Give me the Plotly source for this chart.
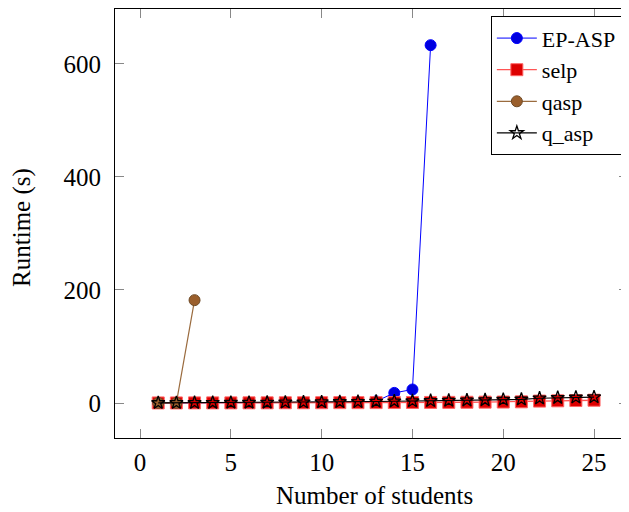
import plotly.graph_objects as go

students = list(range(1, 26))
ep_x = list(range(1, 17))
ep_asp = [0.1, 0.1, 0.2, 0.2, 0.3, 0.4, 0.5, 0.6, 0.8, 1.0, 1.3, 1.8, 3.0, 18, 24, 633]
selp = [0.2, 0.2, 0.3, 0.3, 0.3, 0.4, 0.4, 0.5, 0.5, 0.6, 0.7, 0.7, 0.8, 0.9, 1.0, 1.1, 1.2, 1.4, 1.6, 1.8, 2.2, 3.5, 4.0, 4.5, 5.0]
qasp_x = [1, 2, 3]
qasp = [0.2, 0.3, 182]
q_asp = [0.3, 0.4, 0.5, 0.6, 0.7, 0.8, 1.0, 1.2, 1.4, 1.7, 2.0, 2.3, 2.8, 3.2, 3.6, 4.0, 4.5, 5.0, 5.5, 6.0, 6.5, 8.5, 9.5, 10.0, 10.5]
x_ticks = [0, 5, 10, 15, 20, 25]
y_ticks = [0, 200, 400, 600]

font = "Liberation Serif, Times New Roman, serif"
FS = 25

fig = go.Figure()
fig.add_trace(go.Scatter(x=ep_x, y=ep_asp, name="EP-ASP", mode="lines+markers",
                         line=dict(color="#0000FF", width=1),
                         marker=dict(symbol="circle", size=11, color="#0000E0", line=dict(color="#0000FF", width=1))))
fig.add_trace(go.Scatter(x=students, y=selp, name="selp", mode="lines+markers",
                         line=dict(color="#FF5555", width=1.3),
                         marker=dict(symbol="square", size=12, color="#DD0000", line=dict(color="#FF6666", width=1))))
fig.add_trace(go.Scatter(x=qasp_x, y=qasp, name="qasp", mode="lines+markers",
                         line=dict(color="#9A6B3E", width=1.2),
                         marker=dict(symbol="circle", size=11, color="#9B5F2C", line=dict(color="#6E4A26", width=1))))
fig.add_trace(go.Scatter(x=students, y=q_asp, name="q_asp", mode="lines+markers",
                         line=dict(color="black", width=1.2),
                         marker=dict(symbol="star-open", size=10, color="black", line=dict(color="black", width=1.3))))

axis_common = dict(showline=True, linecolor="black", linewidth=1.2, mirror="ticks",
                   ticks="inside", ticklen=9, tickcolor="#888888", tickwidth=1,
                   showgrid=False, zeroline=False, automargin=False,
                   tickfont=dict(family=font, size=FS, color="black"))

fig.update_xaxes(range=[-1.38, 26.87], tickvals=x_ticks, ticklabelstandoff=2, **axis_common)
fig.update_yaxes(range=[-61.8, 697], tickvals=y_ticks, ticklabelstandoff=8, **axis_common)

fig.add_annotation(text="Number of students", xref="paper", yref="paper", x=0.505, y=-0.133,
                   xanchor="center", yanchor="middle", showarrow=False,
                   font=dict(family=font, size=FS, color="black"))
fig.add_annotation(text="Runtime (s)", xref="paper", yref="paper", x=-0.181, y=0.49,
                   xanchor="center", yanchor="middle", showarrow=False, textangle=-90,
                   font=dict(family=font, size=FS, color="black"))

fig.update_layout(
    width=621, height=504,
    margin=dict(l=107, r=1, t=1, b=74),
    plot_bgcolor="white", paper_bgcolor="white",
    font=dict(family=font, size=FS, color="black"),
    showlegend=True,
    legend=dict(x=0.988, y=0.983, xanchor="right", yanchor="top",
                bgcolor="white", bordercolor="black", borderwidth=1,
                font=dict(family=font, size=22), itemwidth=40, tracegroupgap=0,
                entrywidth=105),
)

fig.write_html("out.html")
